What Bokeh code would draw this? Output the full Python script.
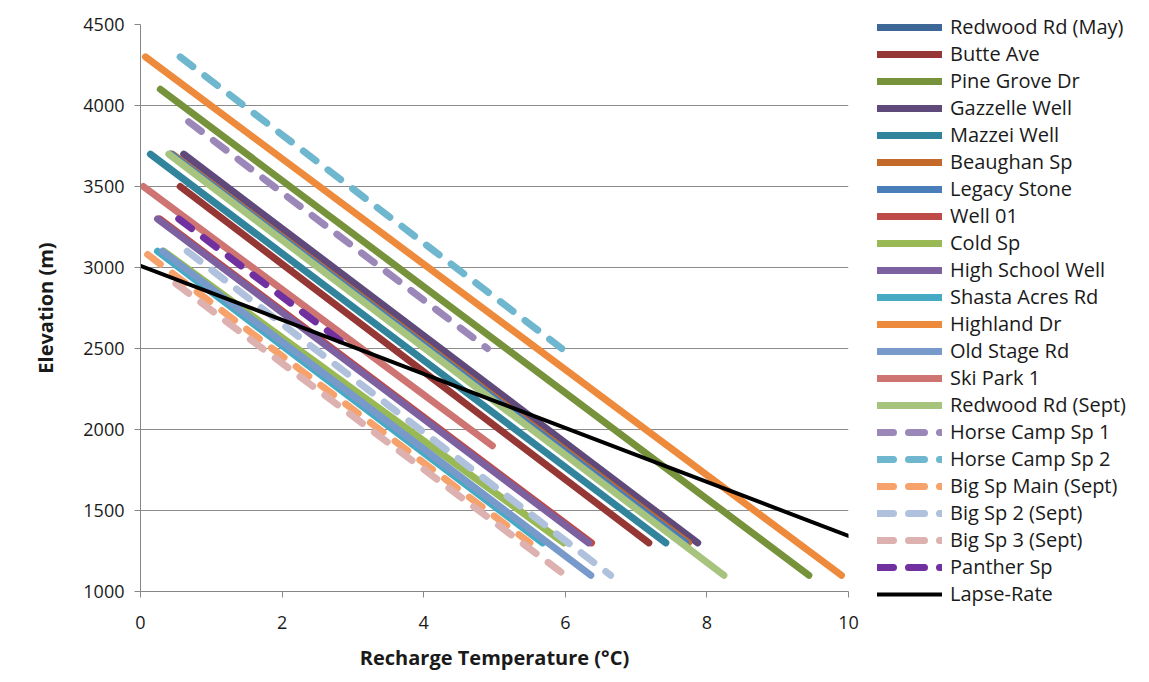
from bokeh.plotting import figure
from bokeh.models import Legend, LegendItem, Range1d, FixedTicker
from bokeh.embed import file_html
from bokeh.resources import INLINE

# ---- data ----
names = ["Redwood Rd (May)", "Butte Ave", "Pine Grove Dr", "Gazzelle Well", "Mazzei Well",
         "Beaughan Sp", "Legacy Stone", "Well 01", "Cold Sp", "High School Well",
         "Shasta Acres Rd", "Highland Dr", "Old Stage Rd", "Ski Park 1", "Redwood Rd (Sept)",
         "Horse Camp Sp 1", "Horse Camp Sp 2", "Big Sp Main (Sept)", "Big Sp 2 (Sept)",
         "Big Sp 3 (Sept)", "Panther Sp", "Lapse-Rate"]
temp_start = [0.42, 0.56, 0.28, 0.61, 0.14, 0.45, 0.43, 0.27, 0.33, 0.24,
              0.24, 0.07, 0.31, 0.04, 0.40, 0.68, 0.56, 0.10, 0.66, 0.50, 0.54, 0.0]
elev_start = [3700, 3500, 4100, 3700, 3700, 3700, 3700, 3300, 3100, 3300,
              3100, 4300, 3100, 3500, 3700, 3900, 4300, 3080, 3100, 2900, 3300, 3010]
temp_end = [7.68, 7.18, 9.44, 7.87, 7.42, 7.74, 7.70, 6.37, 5.98, 6.33,
            5.68, 9.90, 6.36, 4.97, 8.24, 4.90, 5.95, 5.50, 6.64, 6.00, 2.97, 10.0]
elev_end = [1300, 1300, 1100, 1300, 1300, 1300, 1300, 1300, 1300, 1300,
            1300, 1100, 1100, 1900, 1100, 2500, 2500, 1300, 1100, 1100, 2500, 1343]

colors = ["#3C6797", "#953735", "#76933C", "#5F4A7B", "#31849B", "#C3692A",
          "#4A7EBB", "#BE4B48", "#98B954", "#7D60A0", "#46AAC5", "#EE8A3C",
          "#789ACB", "#CE7472", "#A7C47F", "#9B88B9", "#6FB7CF", "#F7A26B",
          "#AFC1DC", "#DDB1B0", "#7030A0", "#000000"]
dashed = [False] * 15 + [True] * 6 + [False]

x_ticks = [0, 2, 4, 6, 8, 10]
y_ticks = [1000, 1500, 2000, 2500, 3000, 3500, 4000, 4500]

FONT = "Open Sans"

p = figure(frame_width=708, frame_height=567,
           min_border_left=140, min_border_right=293, min_border_top=24, min_border_bottom=83,
           x_range=Range1d(0, 10), y_range=Range1d(1000, 4500),
           output_backend="svg", toolbar_location=None)
p.outline_line_color = None
p.background_fill_color = "white"
p.border_fill_color = "white"

items = []
for i, nm in enumerate(names):
    xs = [temp_start[i], temp_end[i]]
    ys = [elev_start[i], elev_end[i]]
    if nm == "Lapse-Rate":
        r = p.line(xs, ys, line_color=colors[i], line_width=4, line_cap="round")
    elif dashed[i]:
        r = p.line(xs, ys, line_color=colors[i], line_width=7, line_cap="round",
                   line_dash="16 15")
    else:
        r = p.line(xs, ys, line_color=colors[i], line_width=7, line_cap="round")
    items.append(LegendItem(label=nm, renderers=[r]))

legend = Legend(items=items, location=(29, -16), orientation="vertical",
                glyph_width=65, glyph_height=20, label_height=20, spacing=0,
                label_standoff=8, padding=0, margin=0,
                label_text_font=FONT, label_text_font_size="20px", label_text_color="#1a1a1a",
                border_line_color=None, background_fill_alpha=0)
p.add_layout(legend, "right")

# axes
p.xaxis.ticker = FixedTicker(ticks=x_ticks)
p.yaxis.ticker = FixedTicker(ticks=y_ticks)
p.xaxis.minor_tick_line_color = None
p.yaxis.minor_tick_line_color = None
for ax in (p.xaxis, p.yaxis):
    ax.axis_line_color = "#868686"
    ax.major_tick_line_color = "#868686"
    ax.major_tick_out = 6
    ax.major_tick_in = 0
    ax.major_label_text_font = FONT
    ax.major_label_text_font_size = "18px"
    ax.major_label_text_color = "#1a1a1a"
    ax.axis_label_text_font = FONT
    ax.axis_label_text_font_size = "20px"
    ax.axis_label_text_font_style = "bold"
    ax.axis_label_text_color = "#1a1a1a"

p.xaxis.axis_label = "Recharge Temperature (°C)"
p.yaxis.axis_label = "Elevation (m)"
p.xaxis.major_label_standoff = 18
p.xaxis.axis_label_standoff = 12
p.yaxis.major_label_standoff = 10
p.yaxis.axis_label_standoff = 21

p.xgrid.grid_line_color = None
p.ygrid.grid_line_color = "#8C8C8C"
p.ygrid.grid_line_width = 1

open("out.html", "w").write(file_html(p, INLINE))
